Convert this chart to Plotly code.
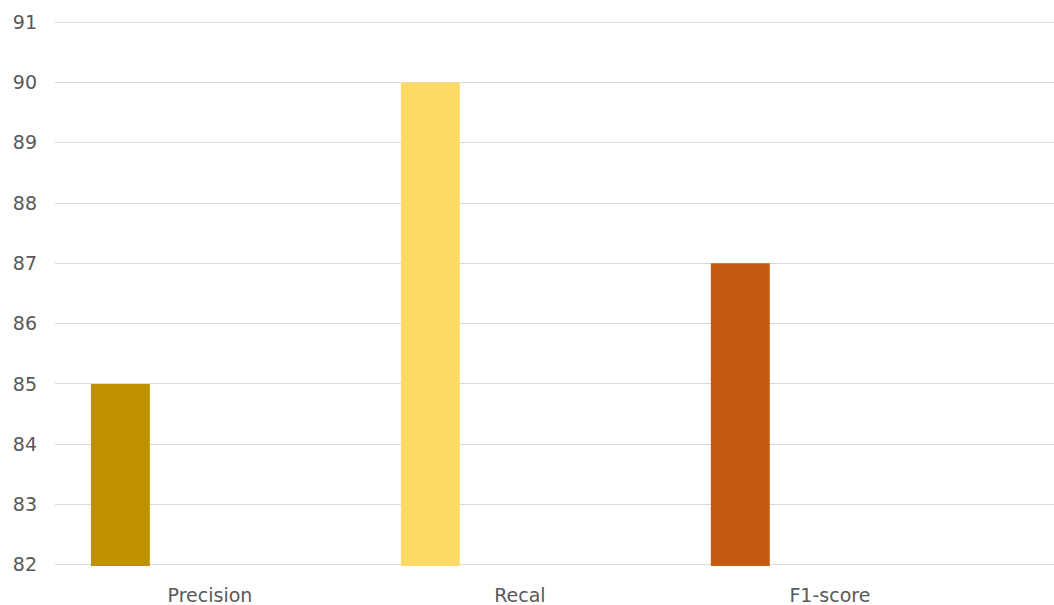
import plotly.graph_objects as go

categories = ["Precision", "Recal", "F1-score"]
values = [85, 90, 87]
colors = ["#BF9000", "#FFD966", "#C55A11"]
y_ticks = list(range(82, 92))

fig = go.Figure()
fig.add_trace(go.Bar(
    x=categories, y=values, marker_color=colors, marker_line_width=0,
    width=0.19, offset=-0.384, showlegend=False,
))
fig.update_layout(
    width=1054, height=605,
    margin=dict(l=55, r=0, t=21, b=39),
    plot_bgcolor="white", paper_bgcolor="white",
    font=dict(family="DejaVu Sans, sans-serif", size=18, color="#595959"),
)
fig.update_xaxes(range=[-0.5, 2.723], showgrid=False, showline=False, ticks="",
                 ticklabelstandoff=16, tickfont=dict(size=19))
fig.update_yaxes(range=[81.98, 91.02], tickvals=y_ticks, showgrid=True, gridcolor="#D9D9D9", gridwidth=1,
                 zeroline=False, showline=False, ticks="", ticklabelstandoff=17, tickfont=dict(size=19))
fig.write_html("out.html")
